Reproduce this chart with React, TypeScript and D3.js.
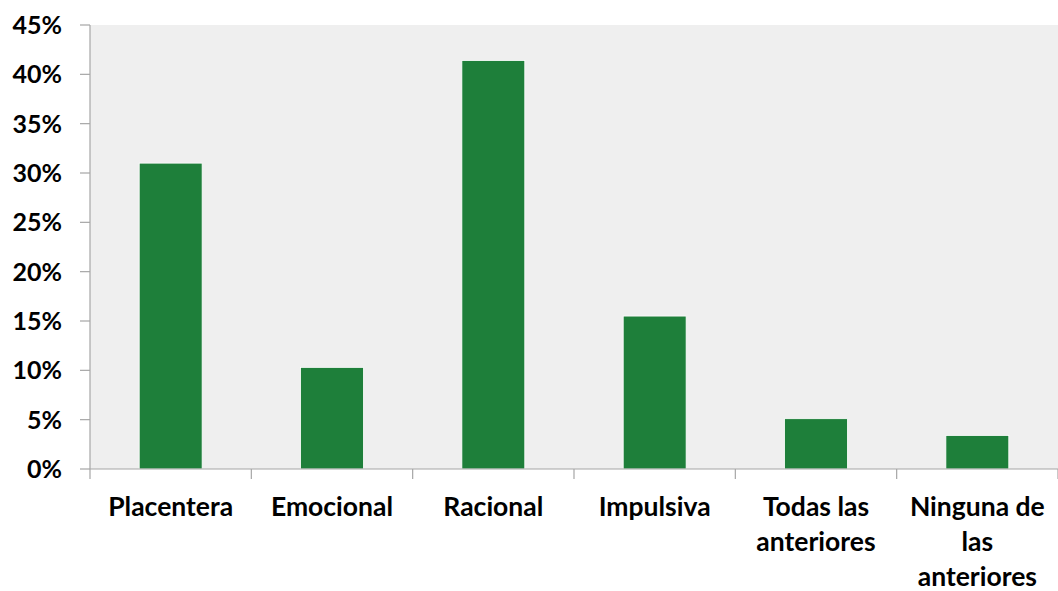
import React, { useEffect, useRef } from "react";
import * as d3 from "d3";

const categories = [
  "Placentera",
  "Emocional",
  "Racional",
  "Impulsiva",
  "Todas las anteriores",
  "Ninguna de las anteriores",
];
const values = [0.31, 0.103, 0.414, 0.155, 0.051, 0.034];
const yTicks = [0, 0.05, 0.1, 0.15, 0.2, 0.25, 0.3, 0.35, 0.4, 0.45];

const W = 1058;
const H = 591;
const M = { left: 90, right: 0, top: 25, bottom: 122 };
const FONT = "Lato, 'Open Sans', sans-serif";

export default function App() {
  const ref = useRef<SVGSVGElement>(null);

  useEffect(() => {
    const svg = d3.select(ref.current);
    svg.selectAll("*").remove();

    const x = d3
      .scaleBand<string>()
      .domain(categories)
      .range([M.left, W - M.right])
      .paddingInner(0.61)
      .paddingOuter(0.305);
    const y = d3.scaleLinear().domain([0, 0.45]).range([H - M.bottom, M.top]);

    // plot background
    svg
      .append("rect")
      .attr("x", M.left)
      .attr("y", M.top)
      .attr("width", W - M.left - M.right)
      .attr("height", y(0) - M.top)
      .attr("fill", "#efefef");

    // bars
    svg
      .selectAll("rect.bar")
      .data(values)
      .join("rect")
      .attr("class", "bar")
      .attr("x", (_, i) => x(categories[i])!)
      .attr("y", (d) => y(d))
      .attr("width", x.bandwidth())
      .attr("height", (d) => y(0) - y(d))
      .attr("fill", "#1e7f3a")
      .attr("stroke", "#ffffff")
      .attr("stroke-width", 0.8);

    const axisColor = "#a6a6a6";

    // y axis
    svg
      .append("line")
      .attr("x1", M.left)
      .attr("x2", M.left)
      .attr("y1", M.top)
      .attr("y2", y(0))
      .attr("stroke", axisColor)
      .attr("stroke-width", 1.2);
    const yg = svg.append("g");
    yTicks.forEach((t) => {
      yg.append("line")
        .attr("x1", M.left - 10)
        .attr("x2", M.left)
        .attr("y1", y(t))
        .attr("y2", y(t))
        .attr("stroke", axisColor)
        .attr("stroke-width", 1.2);
      yg.append("text")
        .attr("x", 62)
        .attr("y", y(t))
        .attr("dy", "0.36em")
        .attr("text-anchor", "end")
        .attr("font-family", FONT)
        .attr("font-weight", "bold")
        .attr("font-size", 25)
        .attr("fill", "#000")
        .text(d3.format(".0%")(t));
    });

    // x axis
    svg
      .append("line")
      .attr("x1", M.left)
      .attr("x2", W - M.right)
      .attr("y1", y(0))
      .attr("y2", y(0))
      .attr("stroke", axisColor)
      .attr("stroke-width", 1.2);
    const step = x.step();
    for (let i = 0; i <= categories.length; i++) {
      const bx = M.left + i * step;
      svg
        .append("line")
        .attr("x1", bx)
        .attr("x2", bx)
        .attr("y1", y(0))
        .attr("y2", y(0) + 10)
        .attr("stroke", axisColor)
        .attr("stroke-width", 1.2);
    }

    // category labels, wrapped to the band width
    categories.forEach((c) => {
      const cx = x(c)! + x.bandwidth() / 2;
      const text = svg
        .append("text")
        .attr("x", cx)
        .attr("y", y(0) + 47)
        .attr("text-anchor", "middle")
        .attr("font-family", FONT)
        .attr("font-weight", "bold")
        .attr("font-size", 26.5)
        .attr("fill", "#000");
      const words = c.split(" ");
      const lines: string[] = [];
      let line: string[] = [];
      const probe = text.append("tspan");
      words.forEach((w) => {
        const trial = [...line, w].join(" ");
        probe.text(trial);
        if ((probe.node() as SVGTSpanElement).getComputedTextLength() > step - 14 && line.length) {
          lines.push(line.join(" "));
          line = [w];
        } else {
          line.push(w);
        }
      });
      lines.push(line.join(" "));
      probe.remove();
      lines.forEach((l, i) => {
        text
          .append("tspan")
          .attr("x", cx)
          .attr("dy", i === 0 ? 0 : 35)
          .text(l);
      });
    });
  }, []);

  return (
    <svg
      ref={ref}
      width={W}
      height={H}
      style={{ position: "absolute", left: 0, top: 0, display: "block", background: "#fff" }}
    />
  );
}
